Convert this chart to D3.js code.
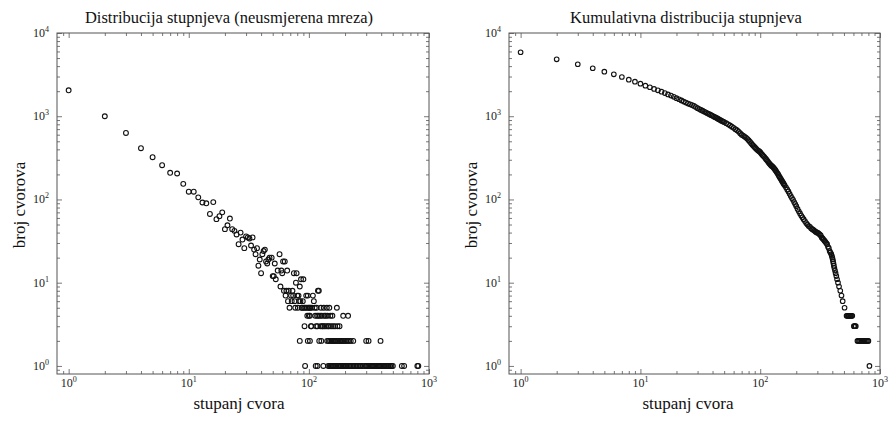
<!DOCTYPE html>
<html>
<head>
<meta charset="utf-8">
<script src="https://cdn.jsdelivr.net/npm/d3@7"></script>
<style>
  body { margin: 0; background: #fff; }
  svg { display: block; }
  svg text { font-family: "Liberation Serif", "Times New Roman", serif; }
</style>
</head>
<body>
<div id="chart"></div>
<script>
// degree distribution, upper part: [degree, number of nodes]
var distHead = [
  [1,2050],[2,1000],[3,630],[4,413],[5,322],[6,258],[7,209],[8,205],[9,154],[10,124],
  [11,124],[12,106],[13,92],[14,90],[15,67],[16,93],[17,58],[18,63],[19,70],[20,44],
  [21,49],[22,59],[23,44],[24,42],[25,38],[26,29],[27,40],[28,33],[29,26],[30,36],
  [31,35],[32,34],[33,28],[34,35],[35,25],[36,22],[37,26],[38,16],[39,19],[40,13],
  [41,22],[42,24],[43,25],[44,18],[45,17],[46,19],[47,20],[49,20],[50,12],[51,12],
  [52,17],[53,11],[55,14],[57,22],[58,9],[59,14],[60,13],[61,18],[63,18],[65,8],
  [66,14],[75,13],[78,10],[79,13],[84,9],[86,11],[90,11],[121,8]
];

// tail of the distribution, degrees per count row
var deg8 = [62, 68, 73, 119];
var deg7 = [64, 71, 74, 80, 82, 95, 98, 108];
var deg6 = [67, 72, 76, 83, 85, 89, 110];
var deg5 = [69, 77, 81, 87, 88, 91, 93, 96, 99, 101, 103, 106, 112, 116, 126, 133, 141, 148, 171];
var deg4 = [97, 100, 102, 113, 117, 120, 124, 128, 134, 138, 143, 151, 157, 193, 212];
var deg3 = [92, 104, 105, 115, 118, 125, 129, 131, 135, 139, 144, 147, 153, 159, 165, 173, 180];
var deg2 = [84, 98, 102, 122, 127, 142, 146, 150, 154, 158, 161, 164, 168, 172, 176, 181, 185,
            189, 194, 199, 204, 210, 216, 223, 234, 300, 314, 395];
var deg1 = [93, 114, 118, 132, 145, 149, 152, 155, 158, 162, 166, 169, 174, 178, 182, 186, 191,
            196, 200, 205, 211, 217, 223, 229, 236, 242, 249, 256, 264, 272, 280, 292, 300, 306,
            313, 320, 327, 335, 342, 350, 358, 366, 375, 383, 392, 401, 410, 420, 430, 441, 452,
            463, 475, 487, 500, 594, 621, 800, 815];

// cumulative distribution: [degree, number of nodes]
var cumPoints = [
  [1,5870],[2,4830],[3,4210],[4,3770],[5,3430],[6,3190],[7,2960],[8,2750],[9,2600],[10,2460],
  [11,2330],[12,2230],[13,2130],[14,2050],[15,1970],[16,1900],[17,1830],[18,1770],[19,1710],[20,1650],
  [21,1600],[22,1550],[23,1500],[24,1460],[25,1420],[26,1390],[27,1360],[28,1330],[29,1290],[30,1250],
  [31,1220],[32,1190],[33,1165],[34,1140],[35,1115],[36,1090],[37,1070],[38,1050],[39,1030],[40,1010],
  [41,992],[42,975],[43,958],[44,940],[45,922],[46,905],[47,890],[48,875],[49,862],[50,850],
  [52,825],[54,800],[56,775],[58,750],[60,725],
  [62,700],[64,680],[66,655],[68,625],[70,600],[72,585],[74,570],[76,555],[78,535],[80,515],
  [82,495],[84,475],[86,455],[88,440],[90,425],[92,410],[94,398],[96,387],[98,380],[100,370],
  [102,357],[104,345],[106,335],[108,325],[110,315],[112,305],[114,295],[116,285],[118,276],[120,268],
  [122,261],[124,255],[126,250],[128,245],[130,238],[132,232],[134,225],[136,218],[138,211],[140,205],
  [142,197],[144,190],[146,184],[148,178],[150,172],[152,167],[154,162],[156,157],[158,152],[160,148],
  [164,140],[168,132],[172,125],[176,117],[180,110],
  [184,104],[188,99],[192,93],[196,88],[200,83],[205,77],[210,72],[215,68],[220,64],[225,61],
  [230,58],[236,55],[242,52],[248,50],[254,48],[260,47],[266,45],[272,44],[278,43],[284,42],
  [290,41],[296,40],[302,40],[308,39],[314,38],[320,37],[326,35],[332,34],[338,33],[344,32],
  [350,31],[356,30],[362,29],[368,27],[374,26],[380,24],[386,23],[392,22],[396,21],[400,20],
  [403,19],[406,18],[409,17],[412,16],[416,15],[421,14],[426,13],[432,12],[438,11],[446,10],
  [455,9],[466,8],[477,7],[488,6],[506,5],
  [526,4],[533,4],[540,4],[548,4],[556,4],[564,4],[572,4],[580,4],[587,4],
  [605,3],[612,3],[620,3],[628,3],
  [648,2],[660,2],[672,2],[685,2],[700,2],[715,2],[730,2],[745,2],[760,2],[775,2],[790,2],[800,2],
  [816,1]
];

var majorX = [1, 10, 100, 1000];
var majorY = [1, 10, 100, 1000, 10000];

var width = 892, height = 423;
var plotTop = 33, plotBottom = 374;

// build the distribution points from the head and the count rows
var distPoints = distHead.slice();
[[deg8, 8], [deg7, 7], [deg6, 6], [deg5, 5], [deg4, 4], [deg3, 3], [deg2, 2], [deg1, 1]]
  .forEach(function(row) {
    row[0].forEach(function(k) { distPoints.push([k, row[1]]); });
  });

var svg = d3.select("#chart").append("svg")
    .attr("width", width)
    .attr("height", height);

var panels = [
  {x0: 57, x1: 429, title: "Distribucija stupnjeva (neusmjerena mreza)", titleX: 229,
   xlabX: 239, ylabX: 19, data: distPoints, r: 2.4},
  {x0: 509, x1: 880, title: "Kumulativna distribucija stupnjeva", titleX: 686,
   xlabX: 688, ylabX: 471, data: cumPoints, r: 2.3}
];

function powerLabel(sel, exp) {
  sel.text("10");
  sel.append("tspan")
    .attr("dy", -5)
    .style("font-size", "8px")
    .text(exp);
}

panels.forEach(function(p) {
  var x = d3.scaleLog().domain([0.8, 1000]).range([p.x0, p.x1]);
  var y = d3.scaleLog().domain([0.8, 10000]).range([plotBottom, plotTop]);

  var minorX = x.ticks().filter(function(v) { return majorX.indexOf(v) < 0 && v > 0.8; });
  var minorY = y.ticks().filter(function(v) { return majorY.indexOf(v) < 0 && v > 0.8; });

  var g = svg.append("g");

  // inward ticks on all four sides
  var axes = [
    [d3.axisBottom(x), "translate(0," + plotBottom + ")", majorX, minorX],
    [d3.axisTop(x), "translate(0," + plotTop + ")", majorX, minorX],
    [d3.axisLeft(y), "translate(" + p.x0 + ",0)", majorY, minorY],
    [d3.axisRight(y), "translate(" + p.x1 + ",0)", majorY, minorY]
  ];
  axes.forEach(function(a) {
    [[a[2], 5], [a[3], 3]].forEach(function(set) {
      var ax = g.append("g")
        .attr("transform", a[1])
        .call(a[0].tickValues(set[0]).tickSize(-set[1]).tickFormat(""));
      ax.select(".domain").remove();
      ax.selectAll("line").attr("stroke", "#555").attr("stroke-width", 0.8);
    });
  });

  g.append("rect")
    .attr("x", p.x0)
    .attr("y", plotTop)
    .attr("width", p.x1 - p.x0)
    .attr("height", plotBottom - plotTop)
    .attr("fill", "none")
    .attr("stroke", "#555")
    .attr("stroke-width", 1);

  // tick labels
  majorX.forEach(function(v) {
    g.append("text")
      .attr("x", x(v))
      .attr("y", plotBottom + 13)
      .attr("text-anchor", "middle")
      .style("font-size", "12px")
      .style("fill", "#222")
      .call(powerLabel, Math.round(Math.log10(v)));
  });
  majorY.forEach(function(v) {
    g.append("text")
      .attr("x", p.x0 - 8)
      .attr("y", y(v) + 4)
      .attr("text-anchor", "end")
      .style("font-size", "12px")
      .style("fill", "#222")
      .call(powerLabel, Math.round(Math.log10(v)));
  });

  // points
  g.selectAll("circle")
    .data(p.data)
    .enter().append("circle")
      .attr("cx", function(d) { return x(d[0]); })
      .attr("cy", function(d) { return y(d[1]); })
      .attr("r", p.r)
      .attr("fill", "none")
      .attr("stroke", "#111")
      .attr("stroke-width", 1.1);

  // titles and axis labels
  g.append("text")
    .attr("x", p.titleX)
    .attr("y", 23)
    .attr("text-anchor", "middle")
    .style("font-size", "16.5px")
    .style("fill", "#111")
    .text(p.title);

  g.append("text")
    .attr("x", p.xlabX)
    .attr("y", 409)
    .attr("text-anchor", "middle")
    .style("font-size", "17px")
    .style("fill", "#111")
    .text("stupanj cvora");

  g.append("text")
    .attr("transform", "translate(" + (p.ylabX + 6) + "," + 205 + ") rotate(-90)")
    .attr("text-anchor", "middle")
    .style("font-size", "17px")
    .style("fill", "#111")
    .text("broj cvorova");
});
</script>
</body>
</html>
